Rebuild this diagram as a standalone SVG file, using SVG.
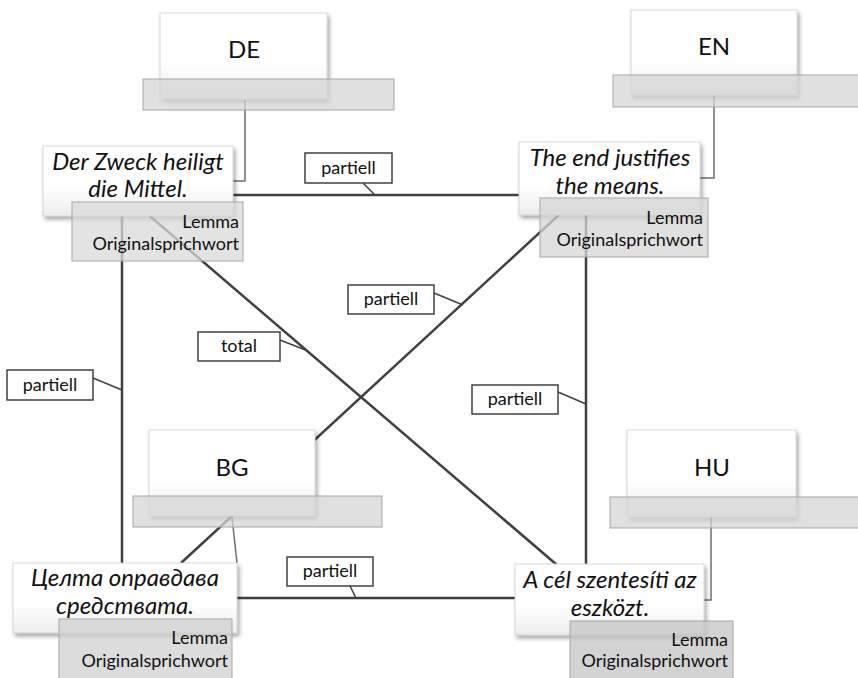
<svg xmlns="http://www.w3.org/2000/svg" width="858" height="678" viewBox="0 0 858 678">
<defs>
<linearGradient id="wg" x1="0" y1="0" x2="0" y2="1">
<stop offset="0" stop-color="#ffffff"/>
<stop offset="0.6" stop-color="#ffffff"/>
<stop offset="1" stop-color="#ececec"/>
</linearGradient>
<filter id="sh" x="-10%" y="-10%" width="125%" height="135%">
<feDropShadow dx="2" dy="3" stdDeviation="2" flood-color="#000" flood-opacity="0.35"/>
</filter>
<style>
.wbox{fill:url(#wg);stroke:#d0d0d0;stroke-width:0.8;filter:url(#sh)}
.bar{fill:#d6d6d6;fill-opacity:0.75;stroke:#a6a6a6;stroke-width:1}
.lem{fill:#cfcfcf;fill-opacity:0.75;stroke:#a6a6a6;stroke-width:1}
.thick{stroke:#404040;stroke-width:2.5;fill:none}
.thin{stroke:#6e6e6e;stroke-width:1.5;fill:none}
.lead{stroke:#404040;stroke-width:1.5;fill:none}
.lbl{fill:#fff;stroke:#404040;stroke-width:1.5}
.t{font-family:Lato,"Open Sans",sans-serif;fill:#111}
.hd{font-size:24px;text-anchor:middle}
.pv{font-size:24px;font-style:italic;text-anchor:middle}
.lm{font-size:18px;text-anchor:end}
.lt{font-size:18px;text-anchor:middle}
</style>
</defs>
<g id="connectors">
<path class="thin" d="M245,100 V181 H233"/>
<path class="thin" d="M714,95 V178 H700"/>
<path class="thin" d="M232,517 L237,563"/>
<path class="thin" d="M711,517 V600 H704"/>
<line class="thick" x1="233" y1="195" x2="519" y2="195"/>
<line class="thick" x1="237" y1="598" x2="515" y2="598"/>
<line class="thick" x1="122" y1="200" x2="122" y2="563"/>
<line class="thick" x1="586" y1="200" x2="586" y2="564"/>
<line class="thick" x1="131" y1="200" x2="557" y2="565"/>
<line class="thick" x1="600" y1="177" x2="181" y2="563"/>
<line class="lead" x1="363" y1="183" x2="374" y2="194"/>
<line class="lead" x1="350" y1="586" x2="356" y2="598"/>
<line class="lead" x1="93" y1="378" x2="122" y2="390"/>
<line class="lead" x1="558" y1="392" x2="586" y2="404"/>
<line class="lead" x1="280" y1="340" x2="308" y2="351"/>
<line class="lead" x1="434" y1="293" x2="463" y2="305"/>
<rect class="lbl" x="305" y="153" width="87" height="30"/>
<text class="t lt" x="348.5" y="174">partiell</text>
<rect class="lbl" x="287" y="557" width="86" height="29"/>
<text class="t lt" x="330" y="577">partiell</text>
<rect class="lbl" x="7" y="370" width="86" height="30"/>
<text class="t lt" x="50" y="391">partiell</text>
<rect class="lbl" x="472" y="385" width="86" height="29"/>
<text class="t lt" x="515" y="405">partiell</text>
<rect class="lbl" x="198" y="332" width="82" height="29"/>
<text class="t lt" x="239" y="352">total</text>
<rect class="lbl" x="348" y="285" width="86" height="29"/>
<text class="t lt" x="391" y="305">partiell</text>
</g>
<g id="DE">
<rect class="wbox" x="160" y="13" width="167" height="86"/>
<text class="t hd" x="244" y="58">DE</text>
<rect class="bar" x="143" y="79" width="251" height="31"/>
</g>
<g id="EN">
<rect class="wbox" x="631" y="10" width="166" height="85"/>
<text class="t hd" x="714" y="55">EN</text>
<rect class="bar" x="613" y="75" width="250" height="32"/>
</g>
<g id="BG">
<rect class="wbox" x="149" y="430" width="166" height="86"/>
<text class="t hd" x="232" y="476">BG</text>
<rect class="bar" x="133" y="496" width="249" height="31"/>
</g>
<g id="HU">
<rect class="wbox" x="627" y="430" width="169" height="87"/>
<text class="t hd" x="712" y="476">HU</text>
<rect class="bar" x="610" y="497" width="253" height="31"/>
</g>
<g id="DE-proverb">
<rect class="wbox" x="43" y="146" width="190" height="70"/>
<text class="t pv" x="138" y="170">Der Zweck heiligt</text>
<text class="t pv" x="138" y="197">die Mittel.</text>
<rect class="lem" x="72" y="202" width="171" height="59" style="fill:#d9d9d9"/>
<text class="t lm" x="239" y="228">Lemma</text>
<text class="t lm" x="239" y="250">Originalsprichwort</text>
</g>
<g id="EN-proverb">
<rect class="wbox" x="519" y="142" width="181" height="73"/>
<text class="t pv" x="610" y="166">The end justifies</text>
<text class="t pv" x="610" y="194">the means.</text>
<rect class="lem" x="540" y="198" width="168" height="59" style="fill:#d6d6d6"/>
<text class="t lm" x="703" y="224">Lemma</text>
<text class="t lm" x="703" y="246">Originalsprichwort</text>
</g>
<g id="BG-proverb">
<rect class="wbox" x="13" y="563" width="224" height="70"/>
<text class="t pv" x="125" y="586">Целта оправдава</text>
<text class="t pv" x="125" y="614">средствата.</text>
<rect class="lem" x="59" y="619" width="173" height="62" style="fill:#d0d0d0"/>
<text class="t lm" x="228" y="644">Lemma</text>
<text class="t lm" x="228" y="667">Originalsprichwort</text>
</g>
<g id="HU-proverb">
<rect class="wbox" x="515" y="564" width="189" height="71"/>
<text class="t pv" x="610" y="588">A cél szentesíti az</text>
<text class="t pv" x="610" y="616">eszközt.</text>
<rect class="lem" x="570" y="621" width="163" height="60" style="fill:#c4c4c4"/>
<text class="t lm" x="728" y="646">Lemma</text>
<text class="t lm" x="728" y="667">Originalsprichwort</text>
</g>
</svg>
